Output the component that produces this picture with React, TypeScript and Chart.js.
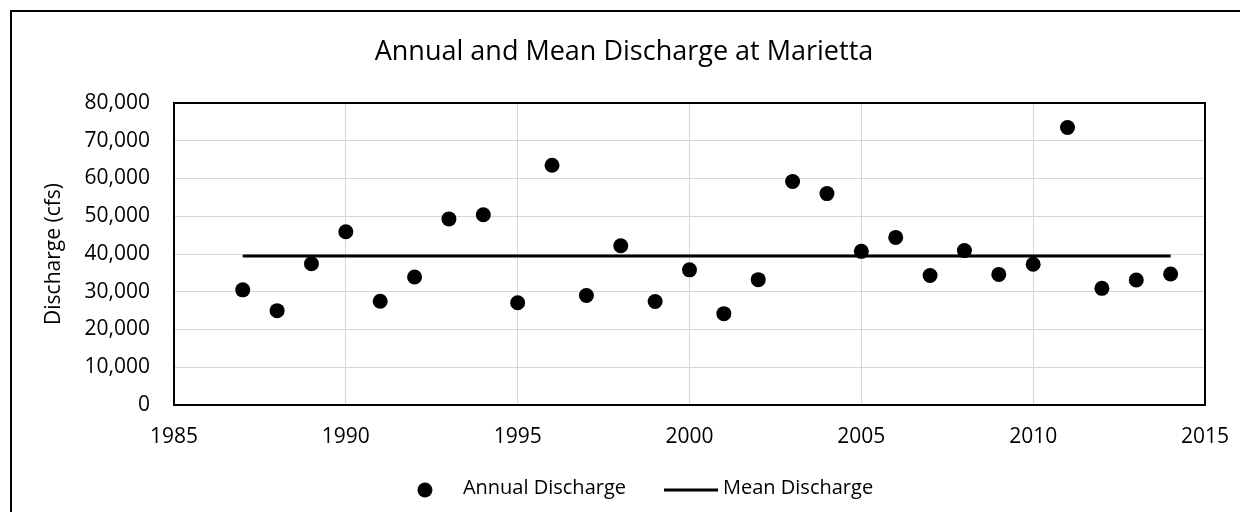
import React, { useEffect, useRef } from "react";
import { Chart, registerables } from "chart.js";

Chart.register(...registerables);

const years = [
  1987, 1988, 1989, 1990, 1991, 1992, 1993, 1994, 1995, 1996, 1997, 1998, 1999, 2000,
  2001, 2002, 2003, 2004, 2005, 2006, 2007, 2008, 2009, 2010, 2011, 2012, 2013, 2014,
];
const annualDischarge = [
  30500, 25000, 37400, 45900, 27500, 33900, 49300, 50400, 27100, 63500, 29000, 42200, 27400, 35800,
  24200, 33200, 59200, 56000, 40700, 44400, 34300, 40900, 34600, 37300, 73500, 30900, 33100, 34700,
];
const meanYears = [1987, 2014];
const meanDischarge = [39500, 39500];

const titleText = "Annual and Mean Discharge at Marietta";
const yTitle = "Discharge (cfs)";
const seriesNames = ["Annual Discharge", "Mean Discharge"];

const FONT = "'Open Sans'";

function makeCircleImg() {
  const c = document.createElement("canvas");
  c.width = 48;
  c.height = 24;
  const g = c.getContext("2d")!;
  g.fillStyle = "#000";
  g.beginPath();
  g.arc(35, 14, 7.5, 0, Math.PI * 2);
  g.fill();
  return c;
}

function makeLineImg() {
  const c = document.createElement("canvas");
  c.width = 88;
  c.height = 8;
  const g = c.getContext("2d")!;
  g.fillStyle = "#000";
  g.fillRect(34, 4.5, 54, 3);
  return c;
}

const plotFrame = {
  id: "plotFrame",
  beforeDatasetsDraw(chart: any) {
    const { ctx, chartArea } = chart;
    const { left, top, right, bottom } = chartArea;
    ctx.save();
    ctx.strokeStyle = "#000";
    ctx.lineWidth = 2;
    ctx.strokeRect(left, top, right - left, bottom - top);
    ctx.restore();
  },
};

export default function App() {
  const ref = useRef<HTMLCanvasElement>(null);

  useEffect(() => {
    if (!ref.current) return;
    const circleImg = makeCircleImg();
    const lineImg = makeLineImg();
    const chart = new Chart(ref.current, {
      type: "scatter",
      data: {
        datasets: [
          {
            label: seriesNames[0],
            data: years.map((x, i) => ({ x, y: annualDischarge[i] })),
            backgroundColor: "#000",
            borderColor: "#000",
            pointRadius: 7.5,
            pointBorderWidth: 0,
            showLine: false,
          },
          {
            label: seriesNames[1],
            data: meanYears.map((x, i) => ({ x, y: meanDischarge[i] })),
            borderColor: "#000",
            backgroundColor: "#000",
            borderWidth: 3,
            pointRadius: 0,
            showLine: true,
            fill: false,
          },
        ],
      },
      options: {
        animation: false,
        responsive: false,
        layout: { padding: { left: 31, right: 31, top: 0, bottom: 4 } },
        plugins: {
          tooltip: { enabled: false },
          title: {
            display: true,
            text: titleText,
            color: "#000",
            font: { family: FONT, size: 27, weight: "normal" },
            padding: { top: 23.7, bottom: 34.9 },
          },
          legend: {
            position: "bottom",
            labels: {
              usePointStyle: true,
              pointStyleWidth: 78,
              padding: 9,
              color: "#000",
              font: { family: FONT, size: 20 },
              generateLabels: (c: any) => {
                const items = Chart.defaults.plugins.legend.labels.generateLabels(c);
                items[0].pointStyle = circleImg as any;
                items[1].pointStyle = lineImg as any;
                return items;
              },
            },
          },
        },
        scales: {
          x: {
            type: "linear",
            min: 1985,
            max: 2015,
            afterFit: (s: any) => {
              s.height = 64;
              s.paddingLeft = 0;
              s.paddingRight = 0;
            },
            ticks: {
              stepSize: 5,
              padding: 19,
              color: "#000",
              font: { family: FONT, size: 21 },
              callback: (v: any) => String(v),
            },
            grid: { color: "#d6d6d6", lineWidth: 1, drawTicks: false },
            border: { display: false },
          },
          y: {
            min: 0,
            max: 80000,
            afterFit: (s: any) => {
              s.width = 131;
            },
            ticks: {
              stepSize: 10000,
              padding: 24,
              color: "#000",
              font: { family: FONT, size: 21 },
              callback: (v: any) => Number(v).toLocaleString("en-US"),
            },
            grid: { color: "#d6d6d6", lineWidth: 1, drawTicks: false },
            border: { display: false },
            title: {
              display: true,
              text: yTitle,
              color: "#000",
              font: { family: FONT, size: 21 },
              padding: { top: -1.8, bottom: 0 },
            },
          },
        },
      },
      plugins: [plotFrame],
    } as any);
    return () => chart.destroy();
  }, []);

  return (
    <div style={{ padding: "2px 0 0 2px" }}>
      <div
        style={{
          borderLeft: "2px solid #000",
          borderTop: "2px solid #000",
          width: 1236,
          height: 500,
        }}
      >
        <canvas ref={ref} width={1224} height={500} style={{ display: "block", width: 1224, height: 500 }} />
      </div>
    </div>
  );
}
